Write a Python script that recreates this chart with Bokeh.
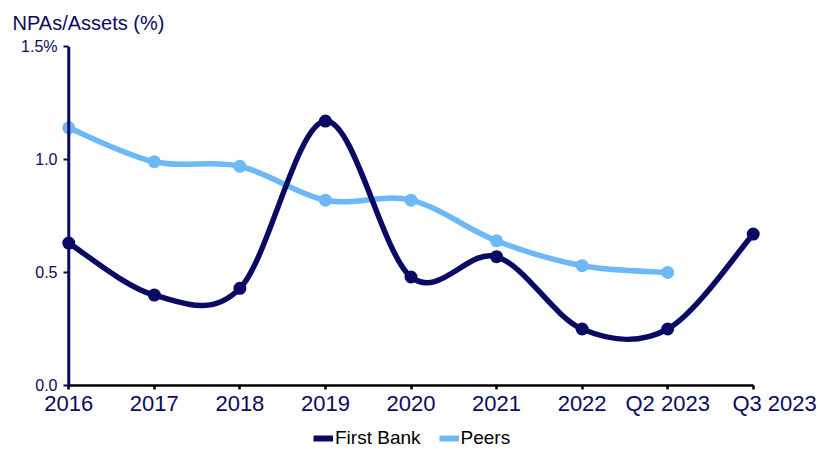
from bokeh.plotting import figure
from bokeh.layouts import column
from bokeh.models import Range1d, FixedTicker, Legend, LegendItem, ColumnDataSource, Span
from bokeh.embed import file_html
from bokeh.resources import INLINE

# Data
periods = ["2016", "2017", "2018", "2019", "2020", "2021", "2022", "Q2 2023", "Q3 2023"]
first_bank = [0.63, 0.40, 0.43, 1.17, 0.48, 0.57, 0.25, 0.25, 0.67]
peers = [1.14, 0.99, 0.97, 0.82, 0.82, 0.64, 0.53, 0.50]
y_ticks = [0.0, 0.5, 1.0, 1.5]
y_tick_labels = ["0.0", "0.5", "1.0", "1.5%"]

NAVY = "#0a0a64"
LIGHT = "#6db8f7"
FONT = "Liberation Sans"


def smooth_segments(values):
    """Cubic Bezier control points (Catmull-Rom style) for a smoothed line."""
    xs = list(range(len(values)))
    n = len(values)
    seg = dict(x0=[], y0=[], x1=[], y1=[], cx0=[], cy0=[], cx1=[], cy1=[])
    for i in range(n - 1):
        xm, ym = (xs[i - 1], values[i - 1]) if i > 0 else (xs[i], values[i])
        xp, yp = (xs[i + 2], values[i + 2]) if i + 2 < n else (xs[i + 1], values[i + 1])
        seg["x0"].append(xs[i]); seg["y0"].append(values[i])
        seg["x1"].append(xs[i + 1]); seg["y1"].append(values[i + 1])
        seg["cx0"].append(xs[i] + (xs[i + 1] - xm) / 6)
        seg["cy0"].append(values[i] + (values[i + 1] - ym) / 6)
        seg["cx1"].append(xs[i + 1] - (xp - xs[i]) / 6)
        seg["cy1"].append(values[i + 1] - (yp - values[i]) / 6)
    return ColumnDataSource(seg)


p = figure(width=818, height=420, output_backend="svg", toolbar_location=None,
           x_range=Range1d(-0.12, 8.12), y_range=Range1d(0, 1.5),
           min_border_left=58, min_border_right=55, min_border_top=46, min_border_bottom=35,
           title="NPAs/Assets (%)")
p.outline_line_color = None
p.grid.visible = False
p.background_fill_color = "white"
p.border_fill_color = "white"

p.title.text_font = FONT
p.title.text_font_size = "20px"
p.title.text_font_style = "normal"
p.title.text_color = NAVY
p.title.align = "left"
p.title.vertical_align = "top"
p.title.offset = -46
p.title.standoff = 21

for name, vals, col in [("Peers", peers, LIGHT), ("First Bank", first_bank, NAVY)]:
    src = smooth_segments(vals)
    p.bezier(x0="x0", y0="y0", x1="x1", y1="y1", cx0="cx0", cy0="cy0",
             cx1="cx1", cy1="cy1", source=src, line_color=col, line_width=5.5)
    p.scatter(list(range(len(vals))), vals, size=13, fill_color=col, line_color=None)

# vertical axis line sits at the first period
p.add_layout(Span(location=0, dimension="height", line_color=NAVY, line_width=3))

# x axis
xa = p.xaxis[0]
xa.ticker = FixedTicker(ticks=list(range(len(periods))))
overrides = {i: lab for i, lab in enumerate(periods)}
overrides[len(periods) - 1] = "\u00a0" * 7 + periods[-1]
xa.major_label_overrides = overrides
xa.bounds = (0, len(periods) - 1)
xa.axis_line_color = "black"
xa.axis_line_width = 2.5
xa.major_tick_line_color = "black"
xa.major_tick_line_width = 2.5
xa.major_tick_out = 4
xa.major_tick_in = 0
xa.minor_tick_line_color = None
xa.major_label_text_font = FONT
xa.major_label_text_font_size = "22px"
xa.major_label_text_color = NAVY
xa.major_label_standoff = 1

# y axis (ticks shifted inward so they meet the span at x=0)
ya = p.yaxis[0]
ya.ticker = FixedTicker(ticks=y_ticks)
ya.major_label_overrides = {t: lab for t, lab in zip(y_ticks, y_tick_labels)}
ya.axis_line_color = None
ya.major_tick_line_color = NAVY
ya.major_tick_line_width = 2
ya.major_tick_in = 10
ya.major_tick_out = -5
ya.minor_tick_line_color = None
ya.major_label_text_font = FONT
ya.major_label_text_font_size = "16px"
ya.major_label_text_color = NAVY
ya.major_label_standoff = 1

# legend strip under the chart; its keys reuse the series but stay hidden
lg = figure(width=818, height=30, output_backend="svg", toolbar_location=None,
            x_range=Range1d(0, 1), y_range=Range1d(0, 1), min_border=0)
lg.axis.visible = False
lg.grid.visible = False
lg.outline_line_color = None
fb_key = lg.line(list(range(len(first_bank))), first_bank, line_color=NAVY, line_width=6,
                 visible=False)
pe_key = lg.line(list(range(len(peers))), peers, line_color=LIGHT, line_width=6,
                 visible=False)
legend = Legend(items=[LegendItem(label="First Bank", renderers=[fb_key]),
                       LegendItem(label="Peers", renderers=[pe_key])],
                orientation="horizontal", location=(255, 1))
legend.label_text_font = FONT
legend.label_text_font_size = "19px"
legend.label_text_color = "black"
legend.glyph_width = 20
legend.glyph_height = 20
legend.label_height = 20
legend.label_standoff = 2
legend.spacing = 18
legend.padding = 0
legend.margin = 0
legend.border_line_color = None
legend.background_fill_alpha = 0
legend.inactive_fill_alpha = 0
lg.add_layout(legend)

open("out.html", "w").write(file_html(column(p, lg, spacing=0), INLINE))
